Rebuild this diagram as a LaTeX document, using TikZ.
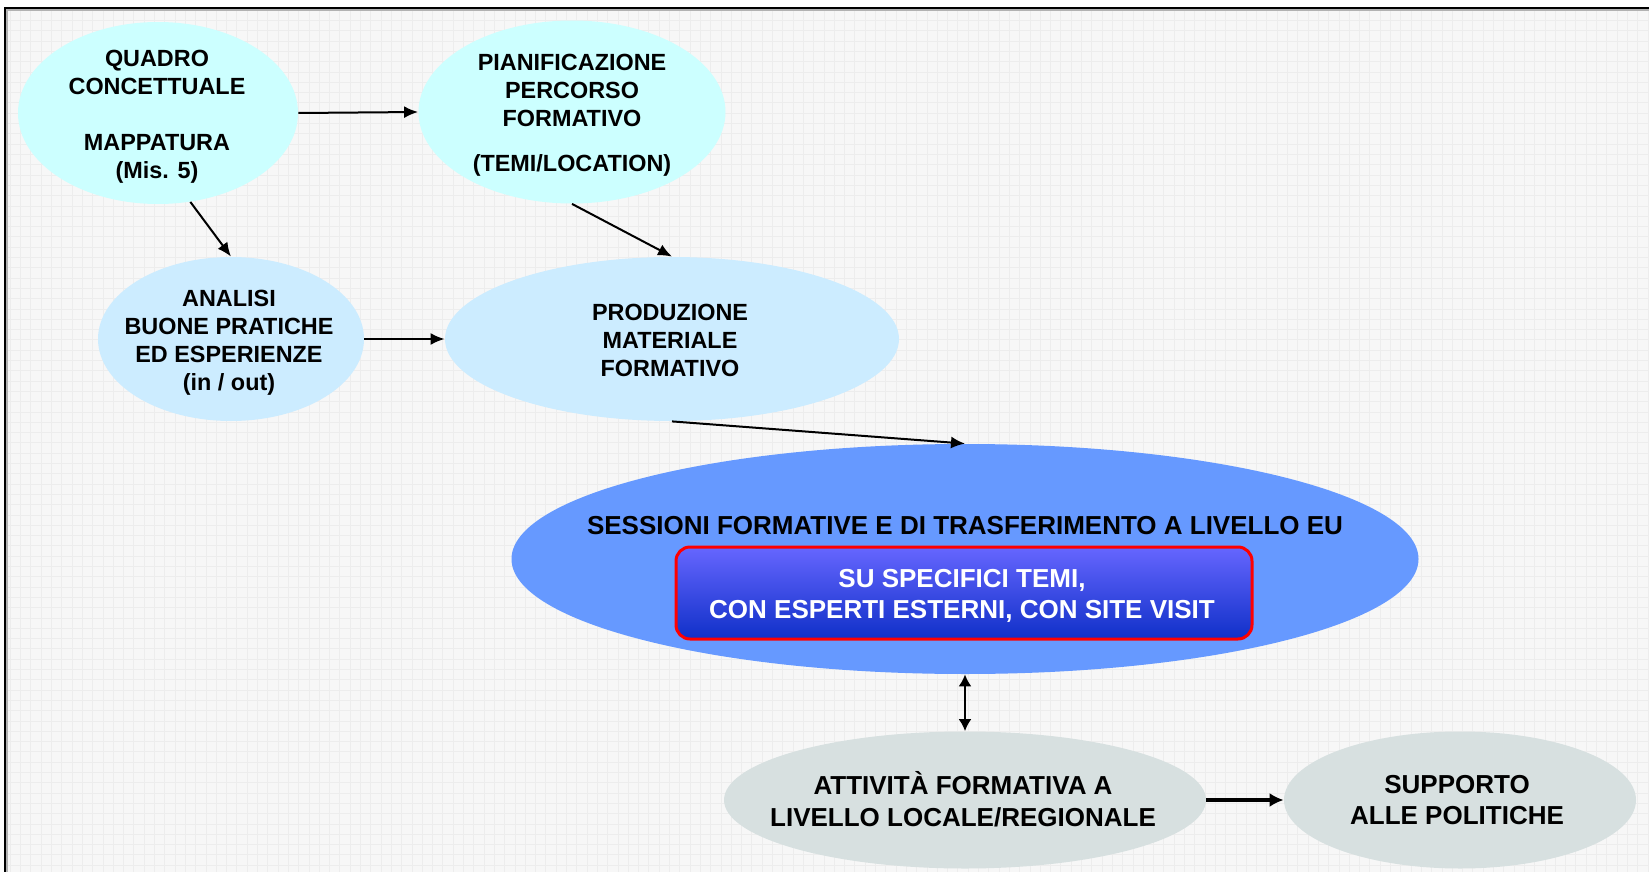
\documentclass[tikz,border=0pt]{standalone}
\usepackage{fontspec}
\setmainfont{Liberation Sans}
\usetikzlibrary{shapes.geometric,arrows.meta}
\definecolor{cyanA}{HTML}{CCFFFF}
\definecolor{blueA}{HTML}{CCECFF}
\definecolor{blueB}{HTML}{6699FF}
\definecolor{greyA}{HTML}{D7E0E0}
\definecolor{bgcol}{HTML}{F7F7F7}
\definecolor{gridcol}{HTML}{EDEDED}
\definecolor{boxtop}{HTML}{6666FF}
\definecolor{boxbot}{HTML}{1030C8}
\begin{document}
\begin{tikzpicture}[x=0.5pt,y=-0.5pt,
  oval/.style={ellipse, inner sep=0pt, draw=none},
  lbl/.style={align=center, font=\bfseries\fontsize{11.7}{14}\selectfont, inner sep=0pt},
  lblbig/.style={align=center, font=\bfseries\fontsize{13}{15.75}\selectfont, inner sep=0pt},
  arr/.style={-{Latex[length=7pt,width=6pt]}, line width=1pt},
  arrboth/.style={{Latex[length=6pt,width=6.5pt]}-{Latex[length=6pt,width=6.5pt]}, line width=1pt},
  arrbig/.style={-{Latex[length=7pt,width=7pt]}, line width=2pt},
  gridline/.style={draw=gridcol, line width=0.5pt},
]
\useasboundingbox (0,0) rectangle (1649,872);
% background
\fill[white] (0,0) rectangle (1649,872);
\fill[bgcol] (5,8) rectangle (1649,872);
\draw[gridline, step=5.15pt] (5,8) grid (1649,872);
\draw[gray!60, line width=1.2pt] (6.5,873) -- (6.5,9.5) -- (1649,9.5);
\draw[black, line width=0.9pt] (5,872) -- (5,8) -- (1649,8);

% ellipses
\node[oval, fill=cyanA, minimum width=280pt*0.5, minimum height=182pt*0.5] (q) at (158,113) {};
\node[oval, fill=cyanA, minimum width=307pt*0.5, minimum height=183pt*0.5] (p) at (572,112) {};
\node[oval, fill=blueA, minimum width=266pt*0.5, minimum height=164pt*0.5] (an) at (231,339) {};
\node[oval, fill=blueA, minimum width=454pt*0.5, minimum height=164pt*0.5] (pr) at (672,339) {};
\node[oval, fill=blueB, minimum width=907pt*0.5, minimum height=230pt*0.5] (s) at (965,559) {};
\node[oval, fill=greyA, minimum width=482pt*0.5, minimum height=137pt*0.5] (at) at (965,800) {};
\node[oval, fill=greyA, minimum width=352pt*0.5, minimum height=137pt*0.5] (su) at (1460,800) {};

% texts
\node[lbl] (qt) at (157,117) {QUADRO\\CONCETTUALE\\[14pt]MAPPATURA\\(Mis. 5)};
\node[lbl] (pt) at (572,115) {PIANIFICAZIONE\\PERCORSO\\FORMATIVO\\[8.5pt](TEMI/LOCATION)};
\node[lbl] (ant) at (229,343) {ANALISI\\BUONE PRATICHE\\ED ESPERIENZE\\(in / out)};
\node[lbl] (prt) at (670,340) {PRODUZIONE\\MATERIALE\\FORMATIVO};
\node[lblbig] (st) at (965,526) {SESSIONI FORMATIVE E DI TRASFERIMENTO A LIVELLO EU};
\node[draw=red, line width=1.5pt, rounded corners=7pt, top color=boxtop, bottom color=boxbot,
      minimum width=288pt, minimum height=46pt, inner sep=0pt] (box) at (964,593) {};
\node[lblbig, text=white] (boxt) at (962,596) {SU SPECIFICI TEMI,\\CON ESPERTI ESTERNI, CON SITE VISIT};
\node[lblbig] (att) at (963,799) {ATTIVIT\`A FORMATIVA A\\LIVELLO LOCALE/REGIONALE};
\node[lblbig] (sut) at (1457,800) {SUPPORTO\\ALLE POLITICHE};

% connectors
\draw[arr] (q.east) -- (p.west);
\draw[arr] (q.-70) -- (an.north);
\draw[arr] (p.south) -- (pr.north);
\draw[arr] (an.east) -- (pr.west);
\draw[arr] (pr.south) -- (s.north);
\draw[arrboth] (s.south) -- (at.north);
\draw[arrbig] (at.east) -- (su.west);
\end{tikzpicture}
\end{document}
